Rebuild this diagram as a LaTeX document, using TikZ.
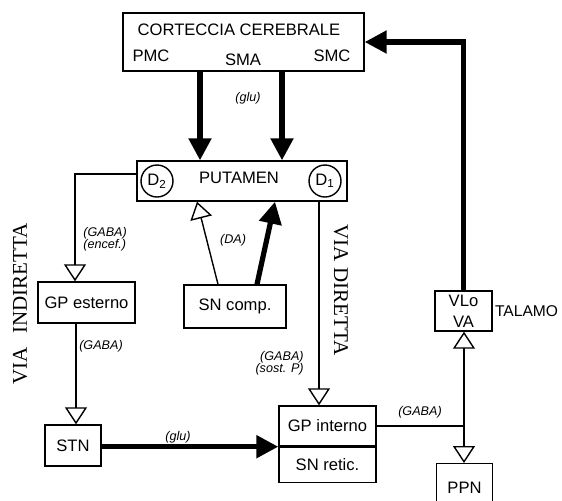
\documentclass[tikz,border=0pt]{standalone}
\usepackage{fontspec}
\setmainfont{Liberation Sans}
\newfontfamily\viafont{Liberation Serif}
\usetikzlibrary{arrows.meta,positioning,calc}

\begin{document}
\begin{tikzpicture}[x=0.5pt, y=-0.5pt,
  font=\fontsize{8.3}{10.5}\selectfont,
  box/.style={draw, line width=0.7pt, inner sep=0pt, align=center},
  dcirc/.style={draw, circle, line width=0.7pt, minimum size=16pt, inner sep=0pt},
  thinline/.style={line width=0.7pt},
  thinarr/.style={line width=0.7pt, -{Triangle[open, length=8.5pt, width=11pt]}},
  thickarr/.style={line width=2.6pt, -{Triangle[length=11pt, width=11pt]}},
  nt/.style={font=\fontsize{6.3}{6.2}\selectfont\itshape, inner sep=1pt},
  via/.style={font=\viafont\fontsize{10.5}{12}\selectfont, inner sep=0pt}
]
  \useasboundingbox (0,0) rectangle (562,500);

  \node[box, minimum width=120.5pt, minimum height=29pt] (ctx) at (243.5,42) {};
  \node (ctxname) at (239,30) {CORTECCIA CEREBRALE};
  \node (pmc) at (151,56) {PMC};
  \node (sma) at (243,60) {SMA};
  \node (smc) at (332,56) {SMC};

  \node[box, minimum width=105pt, minimum height=20pt] (put) at (242,181) {};
  \node (putname) at (239,178) {PUTAMEN};
  \node[dcirc] (d2) at (157,181) {D\textsubscript{2}};
  \node[dcirc] (d1) at (325,181) {D\textsubscript{1}};

  \node[box, minimum width=48.5pt, minimum height=20.5pt] (gpe) at (86.5,302.5) {GP esterno};
  \node[box, minimum width=51pt, minimum height=21.5pt] (snc) at (235,306.5) {SN comp.};
  \node[box, minimum width=28pt, minimum height=20.5pt] (stn) at (73,445.5) {STN};
  \node[box, minimum width=48.5pt, minimum height=20pt] (gpi) at (327.5,426) {GP interno};
  \node[box, minimum width=48.5pt, minimum height=17.5pt, anchor=north] (snr) at (gpi.south) {SN retic.};
  \node[box, minimum width=28.5pt, minimum height=20pt] (vl) at (463.5,311) {VLo\\VA};
  \node[right=0pt of vl, inner sep=1pt, font=\fontsize{7.8}{9}\selectfont] (tal) {TALAMO};
  \node[box, minimum width=28pt, minimum height=24pt, anchor=north] (ppn) at (464.5,463) {PPN};

  \node[via, rotate=90] (vind) at (20,304) {VIA\hspace{7pt}INDIRETTA};
  \node[via, rotate=-90] (vdir) at (341,290) {VIA\hspace{3pt}DIRETTA};

  % cortex to putamen
  \draw[thickarr] (200,0 |- ctx.south) -- (200,0 |- put.north);
  \draw[thickarr] (282,0 |- ctx.south) -- (282,0 |- put.north);
  \node[nt] (glu1) at (248,98) {(glu)};

  % indirect path
  \draw[thinarr] (put.west |- 0,174) -| (75,0 |- gpe.north);
  \node[nt, align=left, anchor=west] (gaba1) at (81,239) {(GABA)\\(encef.)};
  \draw[thinarr] (gpe.south -| 76,0) -- (stn.north -| 76,0);
  \node[nt] (gaba2) at (101,346) {(GABA)};
  \draw[thickarr] (stn.east |- gpi.south west) -- (gpi.south west);
  \node[nt] (glu2) at (178,437) {(glu)};

  % direct path
  \draw[thinarr] (319,0 |- put.south) -- (319,0 |- gpi.north);
  \node[nt, align=right, anchor=east] (gaba3) at (306,363) {(GABA)\\(sost. P)};

  \draw[thinarr] (218,0 |- snc.north) -- (197,0 |- put.south);
  \draw[thickarr] (257,0 |- snc.north) -- (275,0 |- put.south);
  \node[nt] (da) at (233,240) {(DA)};

  % output to thalamus and PPN
  \coordinate (jn) at (464,0 |- gpi.east);
  \draw[thinline] (gpi.east) -- (jn);
  \draw[thinarr] (jn) -- (jn |- vl.south);
  \draw[thinarr] (jn) -- (jn |- ppn.north);
  \node[nt] (gaba4) at (420,412) {(GABA)};

  \draw[thickarr] (vl.north) |- (ctx.east);
\end{tikzpicture}
\end{document}
